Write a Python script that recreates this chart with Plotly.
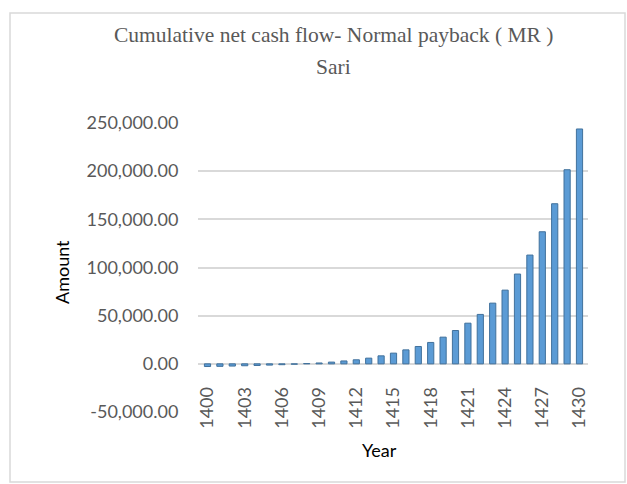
import plotly.graph_objects as go

years = list(range(1400, 1431))
cumulative_cash_flow = [
    -2800, -2600, -2300, -2000, -1700, -1300, -900, -400, 300, 900,
    1800, 3000, 4200, 5900, 8300, 11100, 14500, 18000, 22200, 27700,
    34600, 42200, 51300, 63000, 76500, 93200, 112900, 137100, 166200, 201500,
    243800,
]
tick_years = list(range(1400, 1431, 3))
y_ticks = [-50000, 0, 50000, 100000, 150000, 200000, 250000]
y_tick_labels = ["-50,000.00", "0.00", "50,000.00", "100,000.00",
                 "150,000.00", "200,000.00", "250,000.00"]
title_lines = ["Cumulative net cash flow- Normal payback ( MR )", "Sari"]

TXT = "#595959"
SANS = "Lato, 'Liberation Sans', sans-serif"
SERIF = "'Liberation Serif', serif"

L, R, T, B = 198, 588, 123, 412
W, H = 627, 484
pw, ph = R - L, B - T

fig = go.Figure()
fig.add_trace(go.Bar(
    x=years, y=cumulative_cash_flow,
    marker=dict(color="#5B9BD5", line=dict(color="#41719C", width=1)),
    width=0.5,
))

annotations = [
    dict(text=title_lines[0], x=(333 - L) / pw, y=(B - 35) / ph),
    dict(text=title_lines[1], x=(333 - L) / pw, y=(B - 67) / ph),
]
for a in annotations:
    a.update(xref="paper", yref="paper", showarrow=False,
             xanchor="center", yanchor="middle",
             font=dict(family=SERIF, size=21.5, color=TXT))
annotations += [
    dict(text="Year", x=(379 - L) / pw, y=(B - 450) / ph,
         xref="paper", yref="paper", showarrow=False,
         xanchor="center", yanchor="middle",
         font=dict(family=SANS, size=18, color="black")),
    dict(text="Amount", x=(62 - L) / pw, y=(B - 272) / ph,
         xref="paper", yref="paper", showarrow=False, textangle=-90,
         xanchor="center", yanchor="middle",
         font=dict(family=SANS, size=18, color="black")),
]

fig.update_layout(
    width=W, height=H,
    margin=dict(l=L, r=W - R, t=T, b=H - B),
    paper_bgcolor="white", plot_bgcolor="white",
    showlegend=False,
    xaxis=dict(
        range=[1400 - (207.5 - L) / 12.4, 1400 + (R - 207.5) / 12.4],
        tickmode="array", tickvals=tick_years,
        ticktext=[str(t) for t in tick_years],
        tickangle=-90,
        tickfont=dict(family=SANS, size=18, color=TXT),
        ticks="outside", ticklen=15, tickcolor="rgba(0,0,0,0)",
        showgrid=False, showline=False, zeroline=False,
        anchor="free", position=1 / 6, automargin=False,
    ),
    yaxis=dict(
        range=[-50000, 250000],
        tickmode="array", tickvals=y_ticks, ticktext=y_tick_labels,
        tickfont=dict(family=SANS, size=18, color=TXT),
        ticks="outside", ticklen=15, tickcolor="rgba(0,0,0,0)",
        showgrid=True, gridcolor="#D9D9D9", gridwidth=2,
        zeroline=True, zerolinecolor="#D9D9D9", zerolinewidth=2,
        showline=False, automargin=False,
    ),
    annotations=annotations,
    shapes=[
        dict(type="rect", xref="paper", yref="paper",
             x0=(10 - L) / pw, x1=(625 - L) / pw,
             y0=(B - 482) / ph, y1=(B - 13) / ph,
             line=dict(color="#D9D9D9", width=1.5), fillcolor="rgba(0,0,0,0)",
             layer="below"),
    ],
)

fig.write_html(
    "out.html",
    config={"displayModeBar": False},
    post_script="document.body.style.margin='0';document.body.style.overflow='hidden';",
)
